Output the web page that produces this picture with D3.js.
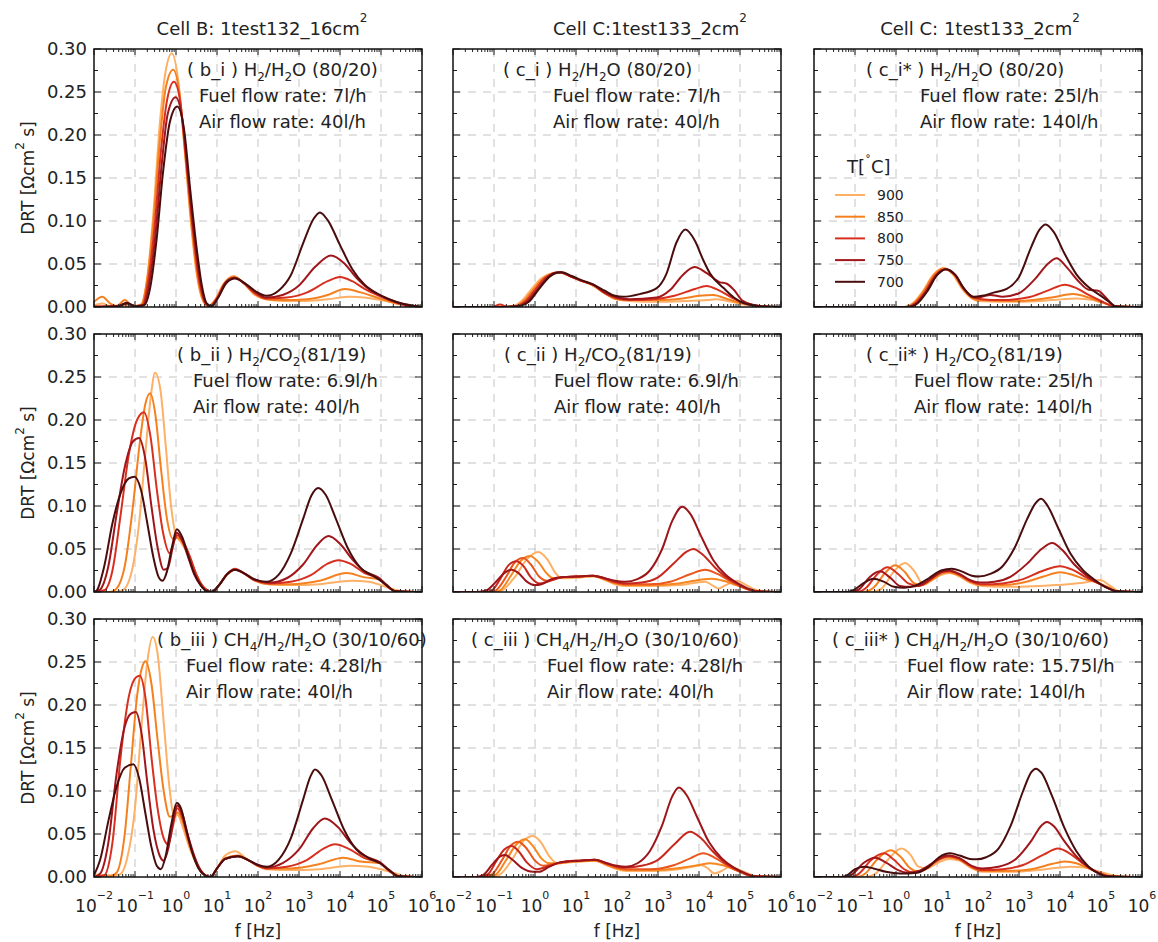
<!DOCTYPE html>
<html>
<head>
<meta charset="utf-8">
<script src="https://d3js.org/d3.v7.min.js"></script>
<style>
  body { margin: 0; background: #fff; }
  text { font-family: "DejaVu Sans", sans-serif; fill: #222; }
</style>
</head>
<body>
<script>
// temperatures and colours
var temps = [900, 850, 800, 750, 700];
var tempColors = ["#fdb066", "#f5801f", "#d8301f", "#a0161b", "#4a0d0e"];
var altColors = ["#fdb066", "#f7861e", "#e9561e", "#c8271d", "#9c1519"];

var decades = [-2, -1, 0, 1, 2, 3, 4, 5, 6];
var yTicks = [0, 0.05, 0.10, 0.15, 0.20, 0.25, 0.30];

// DRT curves, each point is [log10 f, DRT], series order = temps
var b_i = [
  [[-2,0.002],[-1.8,0.004],[-1.6,0.001],[-1.3,0.002],[-1.0,0.001],[-0.85,0.002],[-0.7,0.035],[-0.55,0.11],[-0.4,0.21],[-0.25,0.275],[-0.1,0.295],[0.05,0.265],[0.2,0.19],[0.35,0.105],[0.5,0.04],[0.65,0.008],[0.78,0.001],[0.95,0.008],[1.15,0.026],[1.4,0.036],[1.65,0.028],[1.9,0.015],[2.2,0.009],[2.6,0.007],[3.2,0.007],[3.7,0.009],[4.24,0.012],[4.6,0.011],[5.0,0.008],[5.4,0.004],[5.8,0.001],[6,0]],
  [[-2,0.006],[-1.8,0.012],[-1.6,0.004],[-1.45,0.001],[-1.25,0.008],[-1.05,0.001],[-0.85,0.003],[-0.7,0.033],[-0.55,0.1],[-0.4,0.19],[-0.25,0.255],[-0.07,0.276],[0.08,0.25],[0.22,0.18],[0.37,0.1],[0.52,0.037],[0.67,0.007],[0.8,0.001],[0.97,0.009],[1.17,0.027],[1.4,0.035],[1.65,0.028],[1.9,0.016],[2.2,0.009],[2.6,0.008],[3.2,0.009],[3.7,0.014],[4.12,0.021],[4.5,0.017],[4.9,0.011],[5.3,0.005],[5.7,0.001],[6,0]],
  [[-2,0.001],[-1.5,0.001],[-1.2,0.004],[-1.0,0.001],[-0.82,0.002],[-0.68,0.03],[-0.52,0.095],[-0.37,0.18],[-0.22,0.24],[-0.05,0.262],[0.1,0.24],[0.25,0.17],[0.4,0.095],[0.55,0.035],[0.7,0.006],[0.82,0.001],[1.0,0.01],[1.2,0.028],[1.42,0.034],[1.67,0.027],[1.9,0.017],[2.2,0.01],[2.7,0.011],[3.2,0.017],[3.7,0.03],[4.0,0.035],[4.3,0.03],[4.6,0.021],[4.9,0.014],[5.2,0.008],[5.6,0.002],[6,0]],
  [[-2,0],[-1.4,0.001],[-1.2,0.004],[-1.0,0.001],[-0.8,0.002],[-0.65,0.028],[-0.5,0.085],[-0.35,0.165],[-0.2,0.225],[-0.01,0.244],[0.15,0.22],[0.3,0.15],[0.45,0.08],[0.6,0.028],[0.73,0.004],[0.85,0.001],[1.02,0.011],[1.22,0.029],[1.43,0.034],[1.68,0.027],[1.92,0.018],[2.2,0.011],[2.6,0.014],[3.0,0.025],[3.4,0.047],[3.78,0.06],[4.1,0.051],[4.4,0.034],[4.7,0.021],[5.0,0.013],[5.3,0.007],[5.6,0.003],[6,0]],
  [[-2,0],[-1.4,0.001],[-1.2,0.005],[-1.0,0.001],[-0.78,0.002],[-0.62,0.025],[-0.47,0.08],[-0.32,0.155],[-0.15,0.215],[0.03,0.233],[0.2,0.205],[0.35,0.135],[0.5,0.07],[0.63,0.025],[0.75,0.004],[0.87,0.001],[1.03,0.011],[1.23,0.028],[1.44,0.033],[1.7,0.027],[1.95,0.018],[2.2,0.013],[2.5,0.019],[2.8,0.037],[3.1,0.074],[3.35,0.102],[3.51,0.11],[3.7,0.101],[4.0,0.072],[4.3,0.044],[4.6,0.026],[4.9,0.016],[5.2,0.009],[5.5,0.004],[5.85,0.001],[6,0]]
];

var b_ii = [
  [[-2,0],[-1.5,0],[-1.3,0.002],[-1.1,0.02],[-0.9,0.08],[-0.75,0.16],[-0.62,0.225],[-0.51,0.255],[-0.38,0.235],[-0.25,0.17],[-0.12,0.1],[0.0,0.066],[0.12,0.058],[0.3,0.043],[0.45,0.025],[0.6,0.01],[0.75,0.002],[0.9,0],[1.05,0.008],[1.25,0.02],[1.44,0.026],[1.65,0.022],[1.9,0.014],[2.29,0.009],[2.8,0.008],[3.5,0.009],[4.28,0.013],[4.7,0.012],[5.0,0.008],[5.3,0.003],[5.5,0.001],[6,0]],
  [[-2,0],[-1.6,0],[-1.45,0.004],[-1.25,0.03],[-1.05,0.1],[-0.88,0.175],[-0.75,0.218],[-0.63,0.231],[-0.5,0.205],[-0.37,0.145],[-0.22,0.085],[-0.08,0.062],[0.03,0.063],[0.2,0.054],[0.35,0.038],[0.5,0.02],[0.65,0.007],[0.8,0.001],[0.9,0],[1.05,0.008],[1.25,0.021],[1.44,0.026],[1.65,0.022],[1.9,0.014],[2.29,0.009],[2.8,0.009],[3.5,0.013],[4.16,0.022],[4.6,0.017],[4.93,0.015],[5.15,0.007],[5.34,0.001],[6,0]],
  [[-2,0],[-1.75,0.002],[-1.55,0.025],[-1.35,0.09],[-1.15,0.16],[-0.95,0.2],[-0.78,0.209],[-0.62,0.18],[-0.47,0.12],[-0.32,0.07],[-0.15,0.045],[-0.04,0.06],[0.03,0.066],[0.18,0.058],[0.35,0.04],[0.5,0.02],[0.65,0.007],[0.8,0.001],[0.9,0],[1.05,0.008],[1.25,0.021],[1.44,0.027],[1.65,0.022],[1.9,0.014],[2.29,0.01],[2.8,0.012],[3.3,0.02],[3.7,0.033],[3.96,0.037],[4.25,0.033],[4.6,0.022],[4.93,0.016],[5.15,0.007],[5.34,0.001],[6,0]],
  [[-2,0],[-1.85,0.003],[-1.65,0.03],[-1.45,0.09],[-1.25,0.145],[-1.05,0.175],[-0.9,0.179],[-0.75,0.155],[-0.6,0.1],[-0.45,0.052],[-0.3,0.026],[-0.2,0.028],[-0.08,0.052],[0.02,0.069],[0.15,0.06],[0.3,0.04],[0.45,0.02],[0.6,0.008],[0.75,0.001],[0.85,0],[1.05,0.008],[1.25,0.021],[1.44,0.026],[1.65,0.022],[1.9,0.015],[2.29,0.011],[2.7,0.016],[3.1,0.032],[3.45,0.055],[3.72,0.065],[4.0,0.056],[4.3,0.038],[4.6,0.024],[4.93,0.017],[5.15,0.008],[5.34,0.001],[6,0]],
  [[-2,0],[-1.93,0.002],[-1.75,0.03],[-1.55,0.08],[-1.35,0.115],[-1.15,0.132],[-1.01,0.134],[-0.85,0.118],[-0.7,0.08],[-0.55,0.04],[-0.42,0.017],[-0.33,0.013],[-0.22,0.024],[-0.1,0.052],[0.02,0.073],[0.15,0.064],[0.3,0.042],[0.45,0.021],[0.6,0.008],[0.75,0.001],[0.85,0],[1.05,0.008],[1.25,0.021],[1.44,0.026],[1.65,0.022],[1.9,0.015],[2.2,0.012],[2.5,0.02],[2.8,0.045],[3.1,0.085],[3.3,0.112],[3.47,0.121],[3.65,0.113],[3.9,0.085],[4.2,0.05],[4.5,0.028],[4.8,0.019],[5.0,0.013],[5.2,0.005],[5.34,0.001],[6,0]]
];

var b_iii = [
  [[-2,0.003],[-1.6,0.002],[-1.37,0.003],[-1.2,0.02],[-1.0,0.08],[-0.85,0.17],[-0.7,0.25],[-0.57,0.279],[-0.45,0.26],[-0.3,0.18],[-0.15,0.1],[-0.05,0.07],[0.04,0.072],[0.15,0.06],[0.3,0.038],[0.45,0.02],[0.6,0.007],[0.75,0.001],[0.85,0],[1.0,0.01],[1.2,0.025],[1.45,0.03],[1.7,0.022],[1.95,0.014],[2.21,0.009],[2.8,0.008],[3.5,0.009],[4.24,0.013],[4.7,0.012],[5.0,0.009],[5.3,0.005],[5.6,0.001],[6,0]],
  [[-2,0.001],[-1.6,0.001],[-1.45,0.005],[-1.25,0.05],[-1.1,0.13],[-0.95,0.21],[-0.82,0.245],[-0.74,0.251],[-0.6,0.225],[-0.45,0.16],[-0.3,0.1],[-0.15,0.07],[-0.05,0.072],[0.04,0.075],[0.15,0.066],[0.3,0.042],[0.45,0.021],[0.6,0.007],[0.75,0.001],[0.85,0],[1.0,0.01],[1.2,0.022],[1.5,0.025],[1.75,0.02],[2.0,0.013],[2.21,0.01],[2.8,0.01],[3.5,0.015],[4.08,0.0225],[4.5,0.018],[4.98,0.016],[5.2,0.007],[5.42,0.001],[6,0]],
  [[-2,0],[-1.75,0.002],[-1.55,0.04],[-1.35,0.14],[-1.15,0.21],[-0.98,0.232],[-0.88,0.234],[-0.75,0.21],[-0.6,0.14],[-0.45,0.08],[-0.3,0.045],[-0.19,0.038],[-0.08,0.058],[0.03,0.08],[0.15,0.07],[0.3,0.044],[0.45,0.022],[0.6,0.007],[0.75,0.001],[0.85,0],[1.0,0.01],[1.2,0.021],[1.5,0.024],[1.75,0.02],[2.0,0.013],[2.21,0.01],[2.7,0.012],[3.2,0.02],[3.6,0.033],[3.88,0.038],[4.2,0.033],[4.6,0.022],[4.98,0.016],[5.2,0.007],[5.42,0.001],[6,0]],
  [[-2,0],[-1.85,0.004],[-1.65,0.04],[-1.45,0.12],[-1.25,0.175],[-1.1,0.19],[-0.98,0.192],[-0.85,0.17],[-0.7,0.11],[-0.55,0.055],[-0.4,0.025],[-0.3,0.019],[-0.18,0.035],[-0.06,0.068],[0.03,0.083],[0.15,0.074],[0.3,0.047],[0.45,0.024],[0.6,0.008],[0.75,0.001],[0.85,0],[1.0,0.01],[1.2,0.021],[1.5,0.024],[1.75,0.02],[2.0,0.014],[2.21,0.011],[2.6,0.016],[3.0,0.032],[3.35,0.057],[3.63,0.068],[3.95,0.058],[4.25,0.04],[4.6,0.025],[4.98,0.017],[5.2,0.008],[5.42,0.001],[6,0]],
  [[-2,0.002],[-1.85,0.02],[-1.65,0.065],[-1.45,0.105],[-1.25,0.127],[-1.04,0.131],[-0.9,0.115],[-0.75,0.075],[-0.6,0.035],[-0.47,0.013],[-0.37,0.009],[-0.25,0.025],[-0.12,0.06],[0.02,0.086],[0.12,0.08],[0.25,0.055],[0.4,0.028],[0.55,0.01],[0.7,0.002],[0.83,0],[1.0,0.01],[1.2,0.021],[1.52,0.024],[1.75,0.02],[2.0,0.014],[2.21,0.012],[2.5,0.02],[2.8,0.045],[3.1,0.09],[3.28,0.117],[3.39,0.125],[3.55,0.118],[3.8,0.09],[4.1,0.055],[4.4,0.032],[4.7,0.022],[4.98,0.016],[5.2,0.008],[5.42,0.001],[6,0]]
];

var c_i = [
  [[-2,0],[-1.0,0],[-0.55,0.001],[-0.35,0.006],[-0.1,0.02],[0.15,0.033],[0.4,0.039],[0.6,0.04],[0.85,0.036],[1.1,0.031],[1.42,0.025],[1.7,0.016],[2.0,0.009],[2.3,0.007],[3.0,0.006],[3.7,0.007],[4.2,0.008],[4.43,0.009],[4.8,0.006],[5.1,0.003],[5.5,0.001],[6,0]],
  [[-2,0],[-1.0,0],[-0.5,0.001],[-0.3,0.006],[-0.05,0.02],[0.2,0.033],[0.42,0.039],[0.61,0.04],[0.85,0.036],[1.1,0.031],[1.42,0.025],[1.7,0.016],[2.0,0.009],[2.3,0.008],[3.0,0.008],[3.6,0.01],[4.0,0.013],[4.35,0.014],[4.7,0.009],[5.07,0.004],[5.5,0.001],[6,0]],
  [[-2,0],[-1.05,0],[-0.85,0.003],[-0.68,0],[-0.45,0.001],[-0.25,0.006],[0.0,0.02],[0.25,0.034],[0.45,0.039],[0.62,0.04],[0.85,0.036],[1.1,0.031],[1.42,0.026],[1.7,0.016],[2.0,0.01],[2.3,0.008],[2.9,0.009],[3.4,0.013],[3.9,0.021],[4.18,0.0244],[4.5,0.019],[4.8,0.011],[5.07,0.005],[5.5,0.001],[6,0]],
  [[-2,0],[-1.0,0],[-0.4,0.001],[-0.2,0.006],[0.05,0.02],[0.3,0.034],[0.5,0.04],[0.62,0.0405],[0.85,0.036],[1.1,0.031],[1.42,0.026],[1.7,0.017],[2.0,0.011],[2.3,0.009],[2.97,0.011],[3.3,0.02],[3.6,0.037],[3.89,0.0465],[4.2,0.039],[4.5,0.029],[4.68,0.027],[4.85,0.02],[5.07,0.007],[5.5,0.001],[6,0]],
  [[-2,0],[-1.0,0],[-0.4,0.001],[-0.15,0.006],[0.1,0.021],[0.35,0.035],[0.55,0.04],[0.65,0.0405],[0.9,0.036],[1.15,0.031],[1.42,0.026],[1.7,0.019],[1.95,0.013],[2.15,0.012],[2.55,0.015],[2.97,0.022],[3.2,0.038],[3.45,0.075],[3.67,0.09],[3.9,0.077],[4.1,0.055],[4.27,0.039],[4.6,0.022],[4.85,0.011],[5.07,0.005],[5.5,0.001],[6,0]]
];

var c_ii = [
  [[-2,0],[-0.95,0],[-0.8,0.002],[-0.5,0.017],[-0.2,0.038],[0.08,0.0465],[0.3,0.038],[0.5,0.022],[0.65,0.016],[0.85,0.016],[1.1,0.017],[1.42,0.018],[1.7,0.014],[1.95,0.009],[2.2,0.007],[2.8,0.007],[3.5,0.008],[4.15,0.012],[4.35,0.007],[4.47,0.004],[4.65,0.008],[4.92,0.013],[5.15,0.008],[5.41,0.002],[6,0]],
  [[-2,0],[-1.0,0],[-0.85,0.002],[-0.6,0.018],[-0.35,0.036],[-0.12,0.042],[0.08,0.035],[0.28,0.022],[0.45,0.016],[0.69,0.017],[1.0,0.0175],[1.42,0.0185],[1.7,0.015],[1.95,0.01],[2.2,0.008],[2.8,0.008],[3.5,0.01],[4.0,0.014],[4.31,0.0155],[4.6,0.013],[4.9,0.008],[5.2,0.003],[5.41,0.001],[6,0]],
  [[-2,0],[-1.1,0],[-0.95,0.002],[-0.7,0.018],[-0.5,0.034],[-0.29,0.0395],[-0.1,0.032],[0.1,0.018],[0.3,0.013],[0.5,0.015],[0.69,0.0175],[1.0,0.018],[1.42,0.019],[1.7,0.015],[1.95,0.011],[2.2,0.009],[2.8,0.009],[3.3,0.012],[3.8,0.021],[4.15,0.026],[4.45,0.021],[4.75,0.013],[5.0,0.007],[5.2,0.003],[5.41,0.001],[6,0]],
  [[-2,0],[-1.2,0],[-1.05,0.002],[-0.85,0.015],[-0.65,0.031],[-0.45,0.0357],[-0.28,0.03],[-0.1,0.017],[0.1,0.01],[0.3,0.012],[0.55,0.016],[0.69,0.0175],[1.0,0.018],[1.42,0.019],[1.7,0.016],[1.95,0.012],[2.2,0.01],[2.6,0.011],[3.0,0.017],[3.4,0.034],[3.7,0.047],[3.86,0.05],[4.1,0.043],[4.4,0.028],[4.7,0.016],[5.0,0.008],[5.2,0.003],[5.41,0.001],[6,0]],
  [[-2,0],[-1.4,0],[-1.18,0.002],[-0.95,0.012],[-0.75,0.022],[-0.57,0.026],[-0.4,0.022],[-0.2,0.012],[0.0,0.008],[0.16,0.009],[0.4,0.015],[0.69,0.0175],[1.0,0.018],[1.42,0.019],[1.7,0.016],[1.95,0.013],[2.2,0.012],[2.5,0.015],[2.8,0.025],[3.1,0.05],[3.35,0.083],[3.59,0.099],[3.8,0.09],[4.05,0.065],[4.35,0.037],[4.65,0.02],[4.95,0.01],[5.2,0.004],[5.41,0.001],[6,0]]
];

var c_iii = [
  [[-2,0],[-1.05,0],[-0.85,0.003],[-0.55,0.021],[-0.28,0.042],[-0.05,0.0477],[0.15,0.04],[0.35,0.024],[0.55,0.016],[0.8,0.017],[1.1,0.018],[1.46,0.019],[1.75,0.014],[2.0,0.009],[2.22,0.007],[2.9,0.007],[3.5,0.009],[3.85,0.012],[4.05,0.014],[4.22,0.01],[4.37,0.004],[4.55,0.007],[4.75,0.012],[5.0,0.008],[5.25,0.003],[5.45,0.001],[6,0]],
  [[-2,0],[-1.15,0],[-0.95,0.003],[-0.7,0.02],[-0.45,0.038],[-0.24,0.0438],[-0.05,0.036],[0.15,0.022],[0.35,0.016],[0.6,0.016],[0.9,0.018],[1.2,0.0185],[1.46,0.019],[1.75,0.014],[2.0,0.01],[2.22,0.008],[2.9,0.008],[3.6,0.011],[4.0,0.014],[4.27,0.016],[4.55,0.014],[4.85,0.009],[5.1,0.004],[5.34,0.001],[6,0]],
  [[-2,0],[-1.25,0],[-1.05,0.003],[-0.8,0.02],[-0.6,0.036],[-0.41,0.041],[-0.22,0.034],[0.0,0.019],[0.2,0.013],[0.45,0.015],[0.77,0.018],[1.1,0.019],[1.46,0.02],[1.75,0.015],[2.0,0.011],[2.22,0.009],[2.8,0.009],[3.4,0.014],[3.8,0.022],[4.1,0.0275],[4.4,0.022],[4.7,0.013],[5.0,0.006],[5.2,0.002],[5.34,0.001],[6,0]],
  [[-2,0],[-1.35,0],[-1.15,0.003],[-0.95,0.018],[-0.75,0.032],[-0.57,0.036],[-0.4,0.03],[-0.2,0.017],[0.05,0.009],[0.3,0.012],[0.55,0.016],[0.77,0.018],[1.1,0.019],[1.46,0.02],[1.75,0.016],[2.0,0.012],[2.22,0.011],[2.6,0.013],[3.0,0.02],[3.4,0.038],[3.78,0.0527],[4.05,0.045],[4.35,0.029],[4.65,0.016],[4.95,0.008],[5.15,0.003],[5.34,0.001],[6,0]],
  [[-2,0],[-1.45,0],[-1.27,0.002],[-1.05,0.014],[-0.88,0.023],[-0.73,0.0256],[-0.55,0.02],[-0.3,0.01],[-0.05,0.006],[0.1,0.006],[0.35,0.012],[0.6,0.017],[0.77,0.018],[1.1,0.019],[1.46,0.02],[1.75,0.016],[2.0,0.013],[2.22,0.012],[2.5,0.016],[2.8,0.03],[3.1,0.06],[3.35,0.094],[3.51,0.104],[3.7,0.095],[3.95,0.07],[4.25,0.04],[4.55,0.022],[4.85,0.011],[5.1,0.005],[5.34,0.001],[6,0]]
];

var c_i_star = [
  [[-2,0],[0.2,0],[0.4,0.004],[0.65,0.018],[0.9,0.037],[1.15,0.045],[1.4,0.037],[1.6,0.022],[1.85,0.01],[2.0,0.007],[3.0,0.006],[3.8,0.008],[4.4,0.01],[4.8,0.008],[5.1,0.004],[5.4,0.001],[6,0]],
  [[-2,0],[0.22,0],[0.42,0.004],[0.67,0.018],[0.92,0.037],[1.17,0.045],[1.42,0.037],[1.62,0.022],[1.87,0.01],[2.0,0.008],[3.0,0.007],[3.8,0.011],[4.32,0.015],[4.7,0.011],[5.0,0.006],[5.35,0.001],[6,0]],
  [[-2,0],[0.26,0],[0.46,0.004],[0.71,0.018],[0.96,0.037],[1.2,0.044],[1.44,0.037],[1.64,0.022],[1.9,0.011],[2.1,0.009],[2.5,0.008],[3.2,0.011],[3.7,0.019],[4.12,0.026],[4.4,0.022],[4.7,0.014],[5.0,0.007],[5.3,0.001],[6,0]],
  [[-2,0],[0.3,0],[0.5,0.004],[0.74,0.018],[0.99,0.037],[1.22,0.044],[1.45,0.037],[1.65,0.022],[1.89,0.011],[2.1,0.012],[2.3,0.014],[2.6,0.012],[3.0,0.016],[3.4,0.033],[3.7,0.05],[3.92,0.0566],[4.15,0.047],[4.45,0.03],[4.7,0.02],[4.93,0.019],[5.1,0.012],[5.3,0.002],[5.4,0],[6,0]],
  [[-2,0],[0.32,0],[0.52,0.004],[0.76,0.018],[1.0,0.037],[1.22,0.044],[1.45,0.037],[1.65,0.022],[1.89,0.012],[2.1,0.013],[2.4,0.017],[2.7,0.021],[3.0,0.035],[3.3,0.07],[3.5,0.09],[3.65,0.096],[3.85,0.087],[4.1,0.063],[4.4,0.038],[4.7,0.023],[5.0,0.013],[5.2,0.006],[5.34,0.001],[6,0]]
];

var c_ii_star = [
  [[-2,0],[-0.6,0],[-0.35,0.004],[-0.05,0.024],[0.22,0.0337],[0.45,0.024],[0.65,0.01],[0.85,0.013],[1.1,0.02],[1.3,0.022],[1.55,0.018],[1.8,0.011],[2.1,0.007],[2.8,0.006],[3.5,0.007],[4.2,0.009],[4.6,0.011],[4.98,0.014],[5.2,0.008],[5.45,0.001],[6,0]],
  [[-2,0],[-0.8,0],[-0.55,0.005],[-0.25,0.023],[-0.02,0.031],[0.2,0.024],[0.45,0.01],[0.65,0.008],[0.9,0.015],[1.15,0.022],[1.3,0.023],[1.55,0.019],[1.8,0.012],[2.1,0.008],[2.6,0.008],[3.1,0.011],[3.6,0.018],[4.0,0.023],[4.3,0.02],[4.6,0.015],[4.9,0.011],[5.2,0.005],[5.4,0.001],[6,0]],
  [[-2,0],[-0.95,0],[-0.75,0.004],[-0.45,0.021],[-0.21,0.0287],[0.05,0.021],[0.3,0.01],[0.55,0.007],[0.85,0.015],[1.1,0.023],[1.3,0.024],[1.55,0.02],[1.8,0.013],[2.1,0.009],[2.6,0.01],[3.1,0.015],[3.6,0.025],[4.0,0.03],[4.3,0.026],[4.6,0.018],[4.9,0.011],[5.2,0.004],[5.38,0.001],[6,0]],
  [[-2,0],[-1.1,0],[-0.9,0.003],[-0.65,0.017],[-0.39,0.024],[-0.15,0.017],[0.1,0.007],[0.35,0.006],[0.6,0.008],[0.9,0.017],[1.15,0.024],[1.3,0.025],[1.55,0.021],[1.8,0.014],[2.05,0.011],[2.4,0.012],[2.8,0.018],[3.2,0.033],[3.55,0.05],[3.81,0.057],[4.05,0.049],[4.35,0.032],[4.65,0.019],[4.95,0.01],[5.2,0.004],[5.38,0.001],[6,0]],
  [[-2,0],[-1.2,0],[-1.04,0.002],[-0.8,0.01],[-0.55,0.0155],[-0.3,0.012],[-0.05,0.006],[0.2,0.005],[0.5,0.008],[0.8,0.016],[1.1,0.025],[1.36,0.027],[1.6,0.024],[1.85,0.019],[2.01,0.018],[2.3,0.021],[2.6,0.03],[2.9,0.052],[3.2,0.085],[3.4,0.103],[3.54,0.1085],[3.7,0.1],[3.95,0.075],[4.25,0.045],[4.55,0.026],[4.85,0.014],[5.1,0.006],[5.38,0.001],[6,0]]
];

var c_iii_star = [
  [[-2,0],[-0.75,0],[-0.5,0.004],[-0.2,0.02],[0.13,0.033],[0.35,0.026],[0.55,0.012],[0.75,0.01],[1.0,0.016],[1.3,0.021],[1.55,0.019],[1.85,0.01],[2.1,0.006],[2.8,0.006],[3.5,0.008],[4.0,0.011],[4.27,0.012],[4.6,0.011],[4.9,0.007],[5.2,0.003],[5.45,0.001],[6,0]],
  [[-2,0],[-0.95,0],[-0.75,0.004],[-0.45,0.021],[-0.13,0.031],[0.1,0.024],[0.35,0.01],[0.55,0.006],[0.8,0.011],[1.05,0.02],[1.3,0.023],[1.55,0.02],[1.85,0.011],[2.1,0.007],[2.7,0.007],[3.3,0.009],[3.8,0.015],[4.11,0.018],[4.4,0.016],[4.7,0.01],[5.0,0.004],[5.25,0.001],[6,0]],
  [[-2,0],[-1.1,0],[-0.9,0.004],[-0.6,0.02],[-0.29,0.0275],[-0.05,0.02],[0.2,0.009],[0.45,0.005],[0.7,0.009],[1.0,0.019],[1.3,0.024],[1.55,0.021],[1.85,0.012],[2.1,0.008],[2.6,0.009],[3.1,0.014],[3.6,0.026],[3.95,0.033],[4.25,0.027],[4.55,0.016],[4.85,0.007],[5.1,0.002],[5.3,0],[6,0]],
  [[-2,0],[-1.25,0],[-1.05,0.004],[-0.8,0.016],[-0.51,0.0225],[-0.25,0.017],[0.05,0.008],[0.3,0.005],[0.55,0.007],[0.85,0.015],[1.1,0.023],[1.3,0.025],[1.55,0.022],[1.85,0.013],[2.1,0.01],[2.5,0.012],[2.9,0.02],[3.3,0.042],[3.55,0.06],[3.68,0.064],[3.85,0.059],[4.1,0.042],[4.4,0.024],[4.7,0.011],[4.95,0.004],[5.13,0.001],[6,0]],
  [[-2,0],[-1.35,0],[-1.2,0.002],[-1.0,0.009],[-0.78,0.012],[-0.55,0.01],[-0.25,0.006],[0.1,0.004],[0.51,0.005],[0.8,0.012],[1.05,0.023],[1.32,0.0275],[1.55,0.025],[1.8,0.021],[1.96,0.0205],[2.2,0.023],[2.5,0.033],[2.8,0.06],[3.1,0.1],[3.3,0.122],[3.41,0.126],[3.55,0.121],[3.8,0.095],[4.1,0.058],[4.4,0.03],[4.7,0.012],[4.95,0.004],[5.13,0.001],[6,0]]
];

// label pieces: [text, 1 = subscript]
var H2H2O = [[" H"],["2",1],["/H"],["2",1],["O (80/20)"]];
var H2CO2 = [[" H"],["2",1],["/CO"],["2",1],["(81/19)"]];
var CH4 = [[" CH"],["4",1],["/H"],["2",1],["/H"],["2",1],["O (30/10/60)"]];

var panels = [
  {col:0, row:0, tag:"( b_i )",    gas:H2H2O, fuel:"7l/h",    air:"40l/h",  data:b_i,        colors:tempColors, x1:187, x2:199},
  {col:1, row:0, tag:"( c_i )  ",  gas:H2H2O, fuel:"7l/h",    air:"40l/h",  data:c_i,        colors:tempColors, x1:503, x2:553},
  {col:2, row:0, tag:"( c_i* )",   gas:H2H2O, fuel:"25l/h",   air:"140l/h", data:c_i_star,   colors:tempColors, x1:866, x2:920},
  {col:0, row:1, tag:"( b_ii )",   gas:H2CO2, fuel:"6.9l/h",  air:"40l/h",  data:b_ii,       colors:tempColors, x1:177, x2:193},
  {col:1, row:1, tag:"( c_ii )  ", gas:H2CO2, fuel:"6.9l/h",  air:"40l/h",  data:c_ii,       colors:altColors,  x1:504, x2:554},
  {col:2, row:1, tag:"( c_ii* )",  gas:H2CO2, fuel:"25l/h",   air:"140l/h", data:c_ii_star,  colors:tempColors, x1:866, x2:914},
  {col:0, row:2, tag:"( b_iii )",  gas:CH4,   fuel:"4.28l/h", air:"40l/h",  data:b_iii,      colors:tempColors, x1:157, x2:186},
  {col:1, row:2, tag:"( c_iii )",  gas:CH4,   fuel:"4.28l/h", air:"40l/h",  data:c_iii,      colors:altColors,  x1:471, x2:547},
  {col:2, row:2, tag:"( c_iii* )", gas:CH4,   fuel:"15.75l/h",air:"140l/h", data:c_iii_star, colors:tempColors, x1:832, x2:907}
];

var colTitles = [["Cell B: 1test132_16cm", 262], ["Cell C:1test133_2cm", 650], ["Cell C: 1test133_2cm", 980]];

var colLeft = [94, 453, 814];
var rowTop = [49, 334, 619];
var pw = 328, ph = 258;

var svg = d3.select("body").append("svg")
  .attr("width", 1158).attr("height", 942);

var x = d3.scaleLog().domain([1e-2, 1e6]).range([0, pw]);
var y = d3.scaleLinear().domain([0, 0.30]).range([ph, 0]);

var line = d3.line()
  .x(function(p) { return x(Math.pow(10, p[0])); })
  .y(function(p) { return y(p[1]); })
  .curve(d3.curveMonotoneX);

// minor tick positions
var minorX = [];
decades.slice(0, -1).forEach(function(k) {
  for (var m = 2; m < 10; m++) minorX.push(Math.pow(10, k) * m);
});
var minorY = [0.025, 0.075, 0.125, 0.175, 0.225, 0.275];

panels.forEach(function(p, i) {
  var g = svg.append("g")
    .attr("transform", "translate(" + colLeft[p.col] + "," + rowTop[p.row] + ")");

  g.append("clipPath").attr("id", "clip" + i)
    .append("rect").attr("width", pw).attr("height", ph);

  // dashed grid
  g.selectAll(".gx").data(decades.slice(1, -1)).enter().append("line")
    .attr("x1", function(d) { return x(Math.pow(10, d)); })
    .attr("x2", function(d) { return x(Math.pow(10, d)); })
    .attr("y1", 0).attr("y2", ph)
    .attr("stroke", "#c4c4c4").attr("stroke-width", 1).attr("stroke-dasharray", "8,7");
  g.selectAll(".gy").data(yTicks.slice(1, -1)).enter().append("line")
    .attr("y1", function(d) { return y(d); })
    .attr("y2", function(d) { return y(d); })
    .attr("x1", 0).attr("x2", pw)
    .attr("stroke", "#c4c4c4").attr("stroke-width", 1).attr("stroke-dasharray", "8,7");

  // curves
  g.append("g").attr("clip-path", "url(#clip" + i + ")")
    .selectAll("path").data(p.data).enter().append("path")
    .attr("d", line)
    .attr("fill", "none")
    .attr("stroke", function(d, j) { return p.colors[j]; })
    .attr("stroke-width", 2);

  // inward ticks
  var tk = g.append("g").attr("stroke", "#222").attr("stroke-width", 1);
  [0, ph].forEach(function(yy) {
    var dir = yy === 0 ? 1 : -1;
    tk.selectAll(null).data(decades).enter().append("line")
      .attr("x1", function(d) { return x(Math.pow(10, d)); })
      .attr("x2", function(d) { return x(Math.pow(10, d)); })
      .attr("y1", yy).attr("y2", yy + dir * 6);
    tk.selectAll(null).data(minorX).enter().append("line")
      .attr("x1", function(d) { return x(d); })
      .attr("x2", function(d) { return x(d); })
      .attr("y1", yy).attr("y2", yy + dir * 3);
  });
  [0, pw].forEach(function(xx) {
    var dir = xx === 0 ? 1 : -1;
    tk.selectAll(null).data(yTicks).enter().append("line")
      .attr("y1", function(d) { return y(d); })
      .attr("y2", function(d) { return y(d); })
      .attr("x1", xx).attr("x2", xx + dir * 7);
    tk.selectAll(null).data(minorY).enter().append("line")
      .attr("y1", function(d) { return y(d); })
      .attr("y2", function(d) { return y(d); })
      .attr("x1", xx).attr("x2", xx + dir * 4);
  });

  // frame
  g.append("rect").attr("width", pw).attr("height", ph)
    .attr("fill", "none").attr("stroke", "#111").attr("stroke-width", 1.5);

  // annotation
  var t1 = svg.append("text")
    .attr("x", p.x1).attr("y", rowTop[p.row] + 27)
    .attr("font-size", 18);
  t1.append("tspan").text(p.tag);
  var shift = 0;
  p.gas.forEach(function(s) {
    var sub = s[1] === 1;
    var dy = sub ? 5 - shift : -shift;
    shift = sub ? 5 : 0;
    t1.append("tspan").attr("dy", dy)
      .attr("font-size", sub ? 12 : 18)
      .text(s[0]);
  });
  svg.append("text").attr("x", p.x2).attr("y", rowTop[p.row] + 53)
    .attr("font-size", 18).text("Fuel flow rate: " + p.fuel);
  svg.append("text").attr("x", p.x2).attr("y", rowTop[p.row] + 79)
    .attr("font-size", 18).text("Air flow rate: " + p.air);

  // y tick labels on first column
  if (p.col === 0) {
    g.selectAll(".yl").data(yTicks).enter().append("text")
      .attr("x", -7).attr("y", function(d) { return y(d); })
      .attr("dy", "0.36em")
      .attr("text-anchor", "end")
      .attr("font-size", 18)
      .text(d3.format(".2f"));
    var yl = g.append("text")
      .attr("transform", "translate(-60," + (ph / 2) + ") rotate(-90)")
      .attr("text-anchor", "middle")
      .attr("font-size", 17);
    yl.append("tspan").text("DRT [Ωcm");
    yl.append("tspan").attr("dy", -10).attr("font-size", 12).text("2");
    yl.append("tspan").attr("dy", 10).text(" s]");
  }

  // x tick labels on bottom row
  if (p.row === 2) {
    decades.forEach(function(d) {
      var tl = g.append("text")
        .attr("x", x(Math.pow(10, d))).attr("y", ph + 35)
        .attr("text-anchor", "middle")
        .attr("font-size", 17);
      tl.append("tspan").text("10");
      tl.append("tspan").attr("dy", -13).attr("font-size", 11)
        .text(d < 0 ? "\u2212" + (-d) : String(d));
    });
    g.append("text").attr("x", pw / 2).attr("y", ph + 60)
      .attr("text-anchor", "middle").attr("font-size", 17).text("f [Hz]");
  }
});

// column titles
colTitles.forEach(function(c) {
  var t = svg.append("text").attr("x", c[1]).attr("y", 35)
    .attr("text-anchor", "middle").attr("font-size", 18);
  t.append("tspan").text(c[0]);
  t.append("tspan").attr("dy", -13).attr("font-size", 12).text("2");
});

// legend in c_i* panel
var lg = svg.append("g").attr("transform", "translate(835,0)");
var lt = lg.append("text").attr("x", 12).attr("y", 173).attr("font-size", 18);
lt.append("tspan").text("T[");
lt.append("tspan").attr("dy", -7).attr("font-size", 12).text("˚");
lt.append("tspan").attr("dy", 7).text("C]");
temps.forEach(function(t, j) {
  var yy = 195 + j * 21.7;
  lg.append("line").attr("x1", 0).attr("x2", 30).attr("y1", yy).attr("y2", yy)
    .attr("stroke", tempColors[j]).attr("stroke-width", 2);
  lg.append("text").attr("x", 42).attr("y", yy).attr("dy", "0.36em")
    .attr("font-size", 14).text(t);
});
</script>
</body>
</html>
